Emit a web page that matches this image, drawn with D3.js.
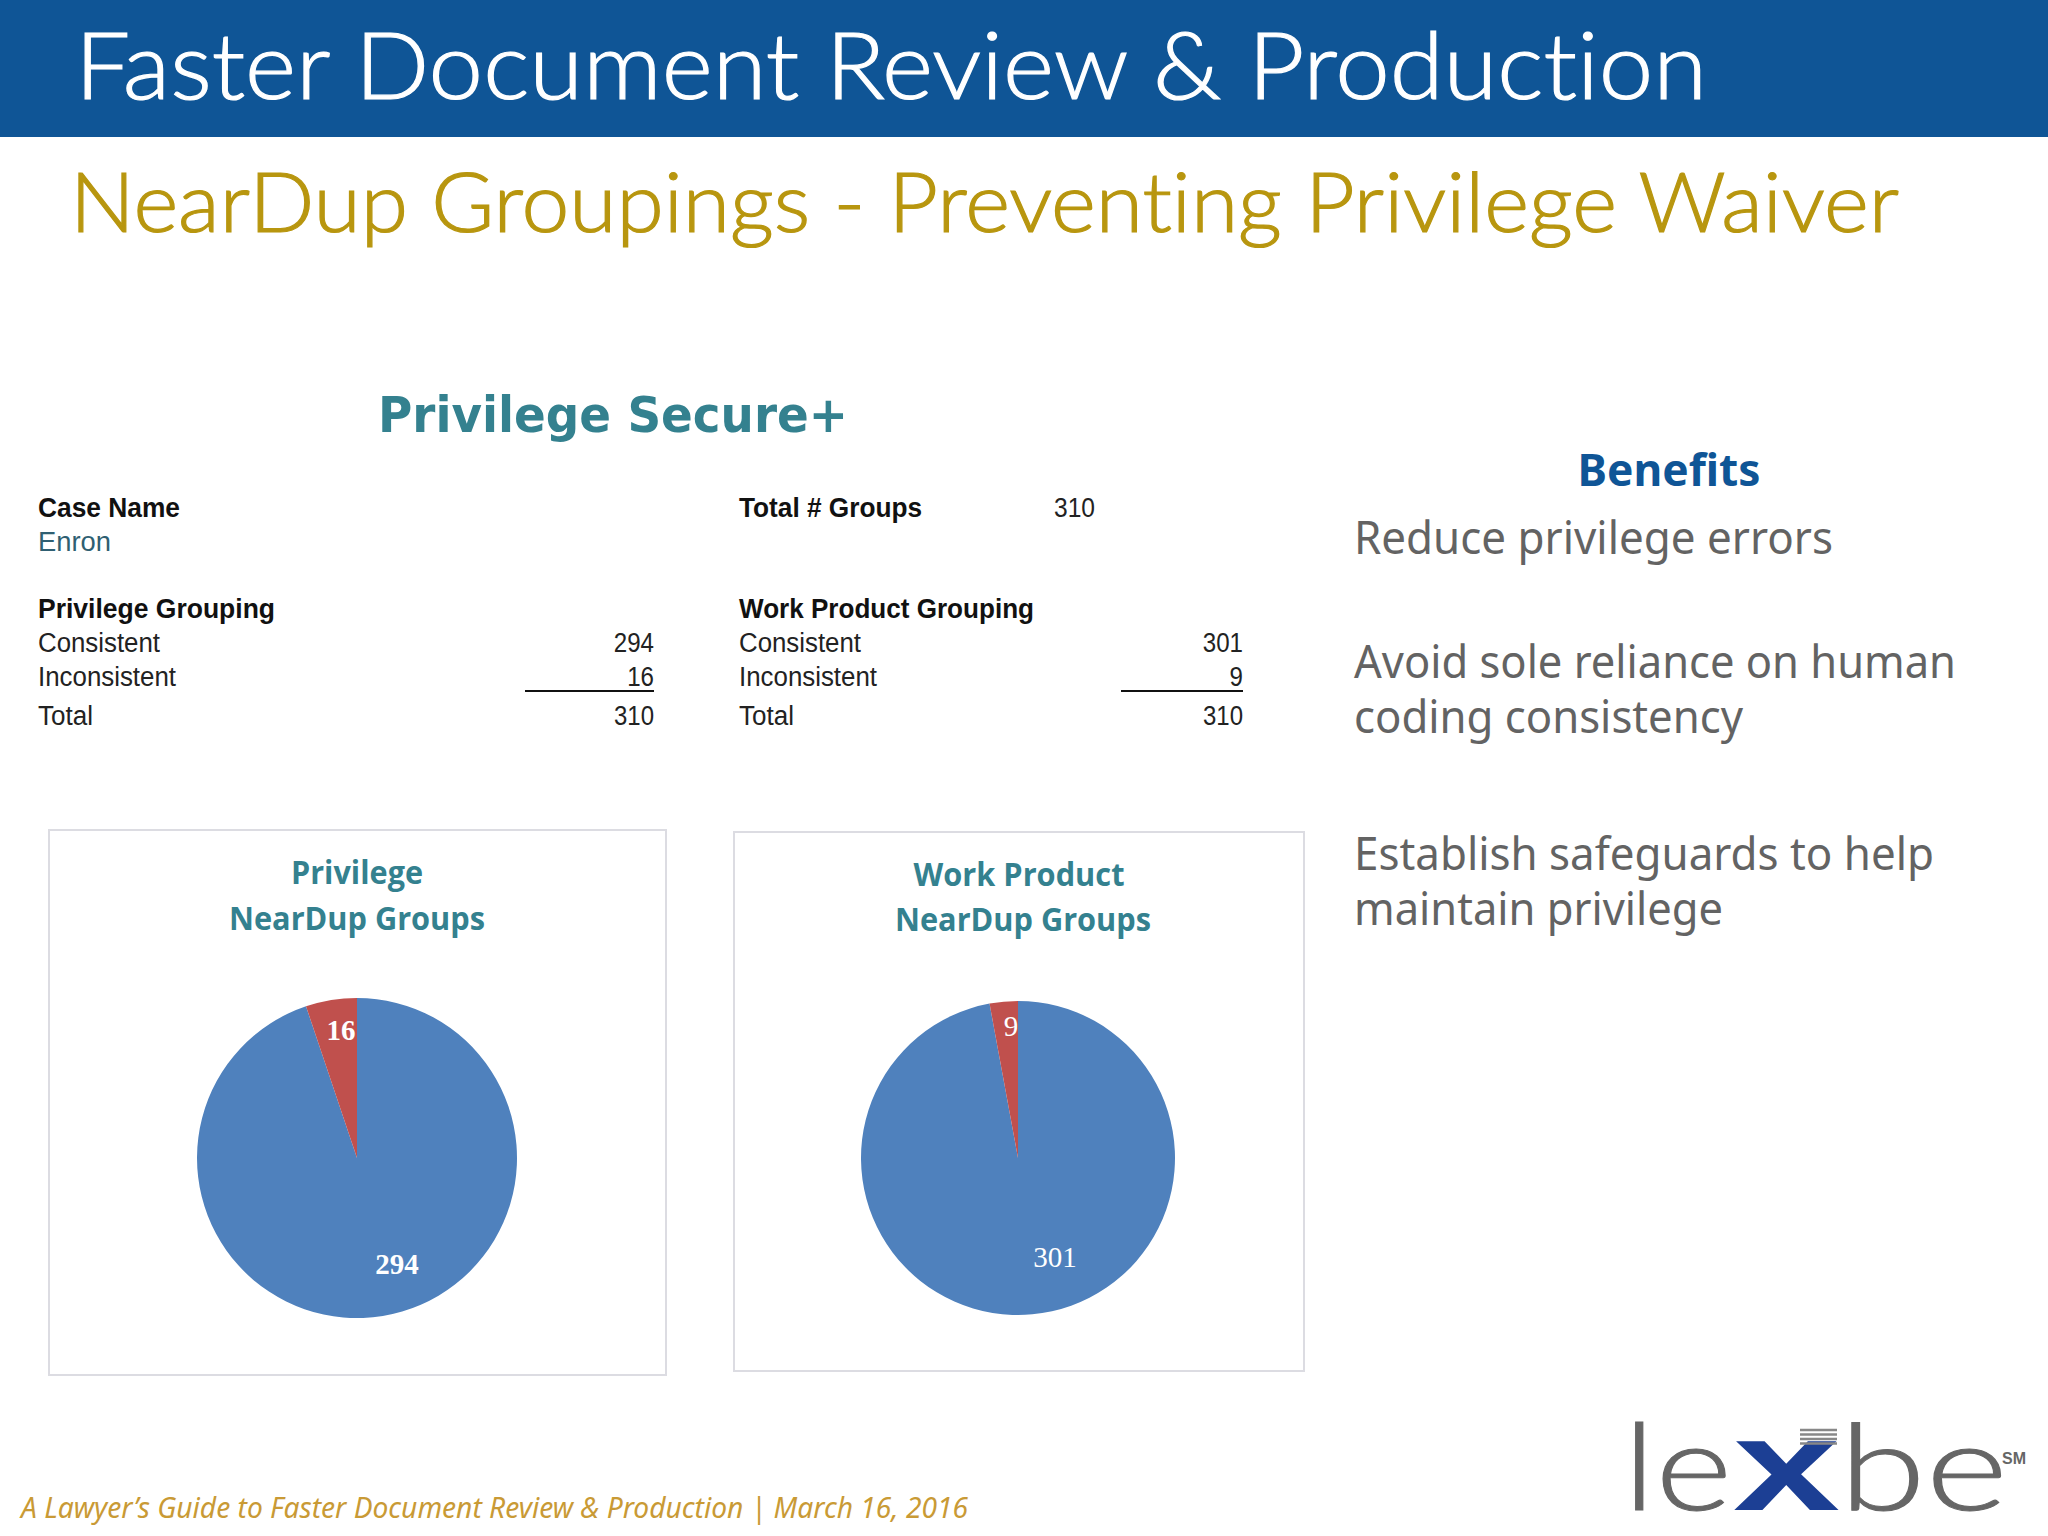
<!DOCTYPE html>
<html>
<head>
<meta charset="utf-8">
<script src="https://cdn.jsdelivr.net/npm/d3@7"></script>
<style>
  html, body { margin: 0; padding: 0; background: #fff; }
  svg { display: block; }
  text { font-variant-ligatures: none; }
</style>
</head>
<body>
<div id="slide"></div>
<script>
//--------------------------------------------------------------------------------
var sliceNames = ["Consistent", "Inconsistent"];
var privilegeValues = [294, 16];
var workProductValues = [301, 9];
var sliceColors = ["#4f81bd", "#c0504d"];
var totalGroups = 310;

var benefitLines = ["Reduce privilege errors", "Avoid sole reliance on human", "coding consistency",
                    "Establish safeguards to help", "maintain privilege"];

var headerBlue = "#0f5596";
var gold = "#b8960f";
var footerGold = "#c99a35";
var teal = "#34818f";
var bodyGray = "#636363";
var logoGray = "#666666";
var logoBlue = "#1c3f94";

var svg = d3.select("#slide").append("svg").attr("width", 2048).attr("height", 1536);

//--------------------------------------------------------------------------------
function addText(x, y, str, size, family, color, opts)
{
  opts = opts || {};
  var t = svg.append("text")
    .attr("x", x)
    .attr("y", y)
    .attr("font-size", size)
    .attr("font-family", family)
    .attr("fill", color)
    .attr("font-weight", opts.weight || 400)
    .attr("font-style", opts.style || "normal")
    .attr("text-anchor", opts.anchor || "start")
    .text(str);
  if(opts.fit){
    t.attr("textLength", opts.fit).attr("lengthAdjust", "spacingAndGlyphs");
  }
  if(opts.thicken){
    t.attr("stroke", color).attr("stroke-width", opts.thicken);
  }
  return t;

} // addText
//--------------------------------------------------------------------------------
function drawGroupingTable(x, valueRight, ruleLeft, title, titleWidth, values)
{
  var sans = "'Liberation Sans', Arial, sans-serif";
  addText(x, 618, title, 28, sans, "#111", {weight: 700, fit: titleWidth});
  addText(x, 652, sliceNames[0], 27, sans, "#222", {fit: 122});
  addText(x, 686, sliceNames[1], 27, sans, "#222", {fit: 138});
  addText(x, 725, "Total", 27, sans, "#222", {fit: 55});

  var rowBaselines = [652, 686];
  values.forEach(function(v, i){
    addText(valueRight, rowBaselines[i], v, 27, sans, "#222", {anchor: "end", fit: String(v).length * 13.4});
  });
  addText(valueRight, 725, d3.sum(values), 27, sans, "#222", {anchor: "end", fit: 40});

  svg.append("line")
    .attr("x1", ruleLeft).attr("x2", valueRight)
    .attr("y1", 691).attr("y2", 691)
    .attr("stroke", "#111").attr("stroke-width", 2);

} // drawGroupingTable
//--------------------------------------------------------------------------------
function drawPiePanel(frame, center, radius, values, labelOffsets, labelWeight)
{
  svg.append("rect")
    .attr("x", frame[0]).attr("y", frame[1])
    .attr("width", frame[2]).attr("height", frame[3])
    .attr("fill", "#fff").attr("stroke", "#dcdce2").attr("stroke-width", 2);

  var pie = d3.pie().sort(null);
  var arc = d3.arc().innerRadius(0).outerRadius(radius);
  var g = svg.append("g").attr("transform", "translate(" + center[0] + "," + center[1] + ")");

  g.selectAll("path")
    .data(pie(values))
    .enter().append("path")
      .attr("d", arc)
      .attr("fill", function(d, i){ return sliceColors[i]; });

  g.selectAll("text")
    .data(values)
    .enter().append("text")
      .attr("x", function(d, i){ return labelOffsets[i][0]; })
      .attr("y", function(d, i){ return labelOffsets[i][1]; })
      .attr("text-anchor", "middle")
      .attr("font-size", 29)
      .attr("font-family", "'Liberation Serif', serif")
      .attr("font-weight", labelWeight)
      .attr("fill", "#fff")
      .text(function(d){ return d; });

} // drawPiePanel
//--------------------------------------------------------------------------------
function drawHeader()
{
  svg.append("rect").attr("x", 0).attr("y", 0).attr("width", 2048).attr("height", 137).attr("fill", headerBlue);
  addText(75, 99, "Faster Document Review & Production", 92, "Lato, sans-serif", "#fff", {weight: 300, fit: 1632, thicken: 1.2});
  addText(70, 232, "NearDup Groupings - Preventing Privilege Waiver", 82, "Lato, sans-serif", gold, {weight: 300, fit: 1829, thicken: 1.2});

} // drawHeader
//--------------------------------------------------------------------------------
function drawReport()
{
  var sans = "'Liberation Sans', Arial, sans-serif";
  addText(378, 432, "Privilege Secure+", 50, "'DejaVu Sans', Verdana, sans-serif", teal, {weight: 700, fit: 470});
  addText(38, 517, "Case Name", 28, sans, "#111", {weight: 700, fit: 142});
  addText(38, 551, "Enron", 27, sans, "#2f5f72", {fit: 73});
  addText(739, 517, "Total # Groups", 28, sans, "#111", {weight: 700, fit: 183});
  addText(1054, 517, totalGroups, 27, sans, "#222", {fit: 41});

  drawGroupingTable(38, 654, 525, "Privilege Grouping", 237, privilegeValues);
  drawGroupingTable(739, 1243, 1121, "Work Product Grouping", 295, workProductValues);

} // drawReport
//--------------------------------------------------------------------------------
function drawPies()
{
  var chartFont = "'Open Sans', sans-serif";

  drawPiePanel([49, 830, 617, 545], [357, 1158], 160, privilegeValues, [[40, 116], [-16, -118]], 700);
  addText(357, 884, "Privilege", 32, chartFont, teal, {weight: 700, anchor: "middle", fit: 132});
  addText(357, 930, "NearDup Groups", 32, chartFont, teal, {weight: 700, anchor: "middle", fit: 256});

  drawPiePanel([734, 832, 570, 539], [1018, 1158], 157, workProductValues, [[37, 109], [-7, -122]], 400);
  addText(1019, 886, "Work Product", 32, chartFont, teal, {weight: 700, anchor: "middle", fit: 211});
  addText(1023, 931, "NearDup Groups", 32, chartFont, teal, {weight: 700, anchor: "middle", fit: 256});

} // drawPies
//--------------------------------------------------------------------------------
function drawBenefits()
{
  var font = "'Noto Sans', sans-serif";
  addText(1669, 486, "Benefits", 44, font, headerBlue, {weight: 700, anchor: "middle", fit: 183});
  addText(1354, 554, benefitLines[0], 46, font, bodyGray, {fit: 479});
  addText(1354, 678, benefitLines[1], 46, font, bodyGray, {fit: 602});
  addText(1354, 733, benefitLines[2], 46, font, bodyGray, {fit: 389});
  addText(1354, 870, benefitLines[3], 46, font, bodyGray, {fit: 580});
  addText(1354, 925, benefitLines[4], 46, font, bodyGray, {fit: 369});

} // drawBenefits
//--------------------------------------------------------------------------------
function drawFooter()
{
  addText(21, 1518, "A Lawyer\u2019s Guide to Faster Document Review & Production | March 16, 2016", 29,
          "'Noto Sans', sans-serif", footerGold, {style: "italic", fit: 947});

  var logoFont = "Lato, sans-serif";
  addText(1623, 1510, "le", 120, logoFont, logoGray, {weight: 300, fit: 109, thicken: 1});
  addText(1733, 1510, "x", 130, "'Liberation Sans', sans-serif", logoBlue, {weight: 700, fit: 107});
  addText(1839, 1510, "be", 120, logoFont, logoGray, {weight: 300, fit: 169, thicken: 1});
  addText(2002, 1464, "SM", 16, "'Liberation Sans', sans-serif", logoGray, {weight: 700});

  // the stripes above the x in the logo
  svg.selectAll("line.stripe")
    .data(d3.range(4))
    .enter().append("line")
      .attr("class", "stripe")
      .attr("x1", 1800).attr("x2", 1837)
      .attr("y1", function(d){ return 1430 + d * 4.5; })
      .attr("y2", function(d){ return 1430 + d * 4.5; })
      .attr("stroke", "#888").attr("stroke-width", 2.5);

} // drawFooter
//--------------------------------------------------------------------------------
drawHeader();
drawReport();
drawPies();
drawBenefits();
drawFooter();
</script>
</body>
</html>
